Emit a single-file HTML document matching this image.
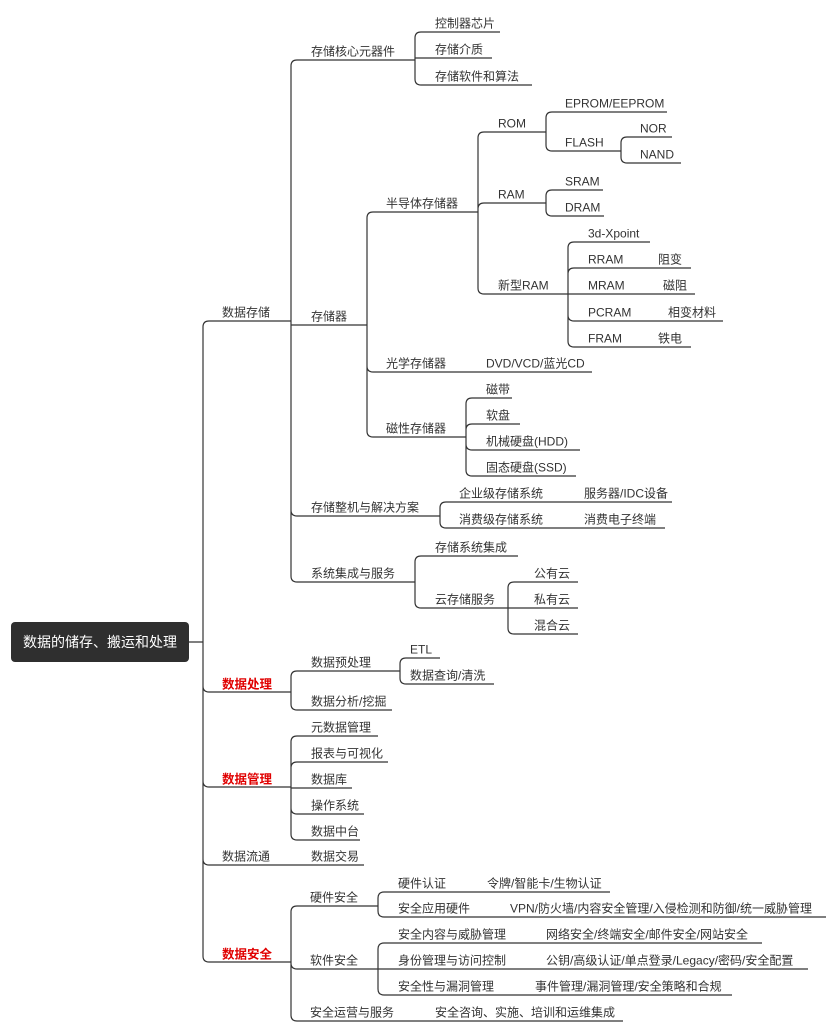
<!DOCTYPE html>
<html><head><meta charset="utf-8"><style>
html,body{margin:0;padding:0;background:#fff;}
svg{display:block;}
text{font-family:"Liberation Sans","Noto Sans CJK SC",sans-serif;font-size:12px;fill:#333;}
.r{fill:#e00000;font-weight:bold;font-size:12.5px;}
</style></head><body>
<svg width="840" height="1033" viewBox="0 0 840 1033" xmlns="http://www.w3.org/2000/svg">
<rect width="840" height="1033" fill="#fff"/>
<g fill="none" stroke="#333" stroke-width="1.2">
<path d="M189,642H203 M203,327V956 M203,327Q203,321 209,321H291 M203,686Q203,692 209,692H291 M203,781Q203,787 209,787H291 M203,859Q203,865 209,865H291 M203,956Q203,962 209,962H291"/>
<path d="M291,66V576 M291,66Q291,60 297,60H415 M291,325H367 M291,510Q291,516 297,516H440 M291,576Q291,582 297,582H415"/>
<path d="M415,38V79 M415,38Q415,32 421,32H500 M415,58H492 M415,79Q415,85 421,85H532"/>
<path d="M367,218V431 M367,218Q367,212 373,212H478 M367,366Q367,372 373,372H592 M367,431Q367,437 373,437H466"/>
<path d="M478,138V288 M478,138Q478,132 484,132H546 M478,209Q478,203 484,203H546 M478,288Q478,294 484,294H568"/>
<path d="M546,118V145 M546,118Q546,112 552,112H667 M546,145Q546,151 552,151H621"/>
<path d="M621,143V157 M621,143Q621,137 627,137H672 M621,157Q621,163 627,163H681"/>
<path d="M546,196V210 M546,196Q546,190 552,190H603 M546,210Q546,216 552,216H604"/>
<path d="M568,248V341 M568,248Q568,242 574,242H650 M568,274Q568,268 574,268H691 M568,294H695 M568,315Q568,321 574,321H723 M568,341Q568,347 574,347H691"/>
<path d="M466,404V470 M466,404Q466,398 472,398H512 M466,430Q466,424 472,424H520 M466,444Q466,450 472,450H580 M466,470Q466,476 472,476H576"/>
<path d="M440,508V522 M440,508Q440,502 446,502H672 M440,522Q440,528 446,528H665"/>
<path d="M415,562V602 M415,562Q415,556 421,556H518 M415,602Q415,608 421,608H508"/>
<path d="M508,588V628 M508,588Q508,582 514,582H578 M508,608H578 M508,628Q508,634 514,634H578"/>
<path d="M291,677V704 M291,677Q291,671 297,671H400 M291,704Q291,710 297,710H392"/>
<path d="M400,664V678 M400,664Q400,658 406,658H440 M400,678Q400,684 406,684H494"/>
<path d="M291,742V834 M291,742Q291,736 297,736H378 M291,768Q291,762 297,762H388 M291,788H352 M291,808Q291,814 297,814H364 M291,834Q291,840 297,840H360"/>
<path d="M291,865H364"/>
<path d="M291,912V1015 M291,912Q291,906 297,906H378 M291,963Q291,969 297,969H378 M291,1015Q291,1021 297,1021H623"/>
<path d="M378,898V911 M378,898Q378,892 384,892H610 M378,911Q378,917 384,917H826"/>
<path d="M378,949V989 M378,949Q378,943 384,943H762 M378,969H808 M378,989Q378,995 384,995H732"/>
</g>
<rect x="11" y="622" width="178" height="40" rx="4" fill="#2f2f2f"/>
<text x="100" y="647" text-anchor="middle" style="fill:#fff;font-size:14px;">数据的储存、搬运和处理</text>
<g transform="translate(0,1.5)">
<text x="222" y="315">数据存储</text>
<text x="222" y="687" class="r">数据处理</text>
<text x="222" y="782" class="r">数据管理</text>
<text x="222" y="859">数据流通</text>
<text x="222" y="957" class="r">数据安全</text>
<text x="311" y="54">存储核心元器件</text>
<text x="311" y="319">存储器</text>
<text x="311" y="510">存储整机与解决方案</text>
<text x="311" y="576">系统集成与服务</text>
<text x="311" y="665">数据预处理</text>
<text x="311" y="704">数据分析/挖掘</text>
<text x="311" y="730">元数据管理</text>
<text x="311" y="756">报表与可视化</text>
<text x="311" y="782">数据库</text>
<text x="311" y="808">操作系统</text>
<text x="311" y="834">数据中台</text>
<text x="311" y="859">数据交易</text>
<text x="310" y="900">硬件安全</text>
<text x="310" y="963">软件安全</text>
<text x="310" y="1015">安全运营与服务</text>
<text x="435" y="26">控制器芯片</text>
<text x="435" y="52">存储介质</text>
<text x="435" y="79">存储软件和算法</text>
<text x="435" y="550">存储系统集成</text>
<text x="435" y="602">云存储服务</text>
<text x="386" y="206">半导体存储器</text>
<text x="386" y="366">光学存储器</text>
<text x="386" y="431">磁性存储器</text>
<text x="498" y="126">ROM</text>
<text x="498" y="197">RAM</text>
<text x="498" y="288">新型RAM</text>
<text x="486" y="366">DVD/VCD/蓝光CD</text>
<text x="565" y="106">EPROM/EEPROM</text>
<text x="565" y="145">FLASH</text>
<text x="565" y="184">SRAM</text>
<text x="565" y="210">DRAM</text>
<text x="640" y="131">NOR</text>
<text x="640" y="157">NAND</text>
<text x="588" y="236">3d-Xpoint</text>
<text x="588" y="262">RRAM</text>
<text x="588" y="288">MRAM</text>
<text x="588" y="315">PCRAM</text>
<text x="588" y="341">FRAM</text>
<text x="658" y="262">阻变</text>
<text x="663" y="288">磁阻</text>
<text x="668" y="315">相变材料</text>
<text x="658" y="341">铁电</text>
<text x="486" y="392">磁带</text>
<text x="486" y="418">软盘</text>
<text x="486" y="444">机械硬盘(HDD)</text>
<text x="486" y="470">固态硬盘(SSD)</text>
<text x="459" y="496">企业级存储系统</text>
<text x="459" y="522">消费级存储系统</text>
<text x="584" y="496">服务器/IDC设备</text>
<text x="584" y="522">消费电子终端</text>
<text x="534" y="576">公有云</text>
<text x="534" y="602">私有云</text>
<text x="534" y="628">混合云</text>
<text x="410" y="652">ETL</text>
<text x="410" y="678">数据查询/清洗</text>
<text x="398" y="886">硬件认证</text>
<text x="398" y="911">安全应用硬件</text>
<text x="398" y="937">安全内容与威胁管理</text>
<text x="398" y="963">身份管理与访问控制</text>
<text x="398" y="989">安全性与漏洞管理</text>
<text x="487" y="886">令牌/智能卡/生物认证</text>
<text x="510" y="911">VPN/防火墙/内容安全管理/入侵检测和防御/统一威胁管理</text>
<text x="546" y="937">网络安全/终端安全/邮件安全/网站安全</text>
<text x="546" y="963">公钥/高级认证/单点登录/Legacy/密码/安全配置</text>
<text x="535" y="989">事件管理/漏洞管理/安全策略和合规</text>
<text x="435" y="1015">安全咨询、实施、培训和运维集成</text>
</g>
</svg>
</body></html>
